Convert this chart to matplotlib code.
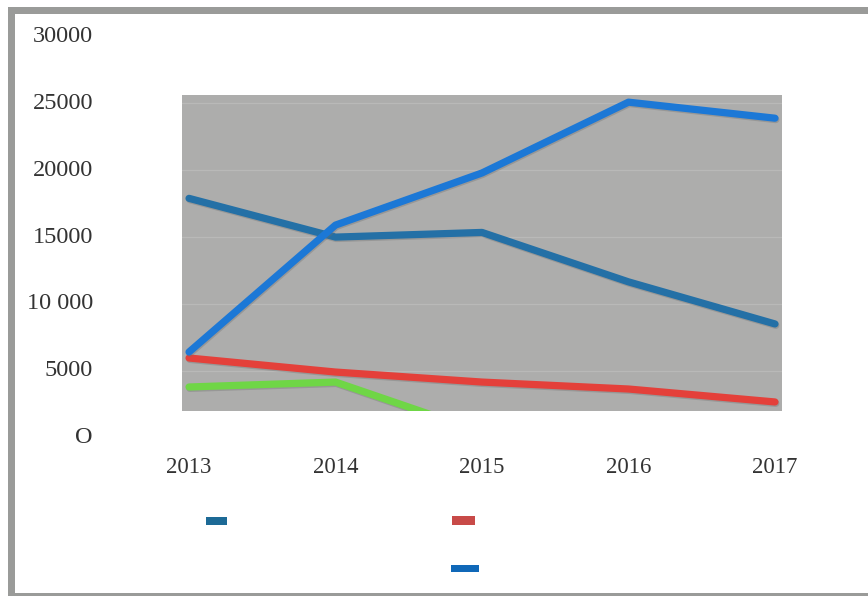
import numpy as np
import matplotlib
matplotlib.use("Agg")
import matplotlib.pyplot as plt
from matplotlib import transforms
from matplotlib.patches import Rectangle
import matplotlib.patheffects as pe

years = [2013, 2014, 2015, 2016, 2017]
series_teal = [17900, 15000, 15350, 11650, 8500]
series_blue = [6400, 15900, 19800, 25100, 23900]
series_red = [5950, 4900, 4150, 3630, 2660]
series_green = [3780, 4150, 400, np.nan, np.nan]

y_ticks = [30000, 25000, 20000, 15000, 10000, 5000, 0]
y_tick_labels = ["30000", "25000", "20000", "15000", "10 000", "5000", "O"]
x_tick_labels = ["2013", "2014", "2015", "2016", "2017"]

W, H = 868, 596
fig = plt.figure(figsize=(W / 100, H / 100), dpi=100)
fig.patch.set_facecolor("white")

def fx(px):
    return px / W

def fy(py):
    return 1 - py / H

# frame around the chart (top, left, bottom edges)
frame_col = "#9a9b99"
fig.add_artist(Rectangle((fx(8), fy(14)), fx(868) - fx(8), fy(7) - fy(14),
                         transform=fig.transFigure, color=frame_col, lw=0))
fig.add_artist(Rectangle((fx(8), fy(596)), fx(15) - fx(8), fy(7) - fy(596),
                         transform=fig.transFigure, color=frame_col, lw=0))
fig.add_artist(Rectangle((fx(8), fy(596)), fx(868) - fx(8), fy(592.5) - fy(596),
                         transform=fig.transFigure, color=frame_col, lw=0))

# plotting panel
ax = fig.add_axes([fx(182), fy(410.7), fx(782) - fx(182), fy(95) - fy(410.7)])
ax.set_facecolor("#adadac")
ax.set_xlim(2012.952, 2017.048)
ax.set_ylim(2006, 25636)
for s in ax.spines.values():
    s.set_visible(False)
ax.set_yticks([5000, 10000, 15000, 20000, 25000])
ax.set_xticks([])
ax.tick_params(axis="y", length=0, labelleft=False)
ax.grid(axis="y", color="#b9b9b8", lw=0.9)
ax.set_axisbelow(True)

shadow = [pe.SimpleLineShadow(offset=(0.6, -1.0), shadow_color="#6e6e6e", alpha=0.35),
          pe.Normal()]
lw = 5.2
ax.plot(years, series_green, color="#6fd646", lw=lw, solid_capstyle="round",
        solid_joinstyle="round", path_effects=shadow)
ax.plot(years, series_red, color="#e4403a", lw=lw, solid_capstyle="round",
        solid_joinstyle="round", path_effects=shadow)
ax.plot(years, series_teal, color="#2470a6", lw=lw, solid_capstyle="round",
        solid_joinstyle="round", path_effects=shadow)
ax.plot(years, series_blue, color="#1c78d6", lw=lw, solid_capstyle="round",
        solid_joinstyle="round", path_effects=shadow)

# axis labels in the white margin
txt_font = dict(family=["Liberation Serif", "DejaVu Serif"], color="#333333")
ytrans = transforms.blended_transform_factory(fig.transFigure, ax.transData)
for v, lab in zip(y_ticks, y_tick_labels):
    ax.text(fx(93), v, lab, transform=ytrans, ha="right", va="center",
            fontsize=17.5, clip_on=False, **txt_font)

xtrans = transforms.blended_transform_factory(ax.transData, fig.transFigure)
for yr, lab in zip(years, x_tick_labels):
    ax.text(yr, fy(467.5), lab, transform=xtrans, ha="center", va="center",
            fontsize=16.5, clip_on=False, **txt_font)

# legend keys
legend_keys = [
    ((206, 517, 227, 525), "#1d6a96"),
    ((452, 516, 475, 525), "#c84a48"),
    ((451, 565, 479, 572), "#1068b8"),
]
for (x0, y0, x1, y1), c in legend_keys:
    fig.add_artist(Rectangle((fx(x0), fy(y1)), fx(x1) - fx(x0), fy(y0) - fy(y1),
                             transform=fig.transFigure, color=c, lw=0))

fig.savefig("out.png", dpi=100, facecolor="white")
